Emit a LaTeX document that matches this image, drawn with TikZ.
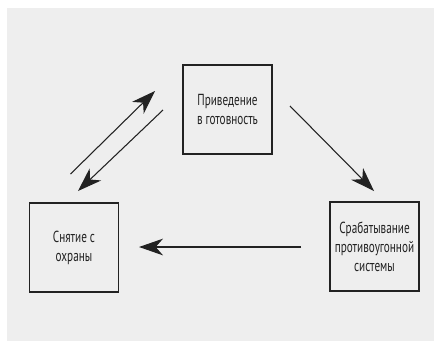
\documentclass[tikz,border=0pt]{standalone}
\usepackage{fontspec}
\setmainfont{PT Sans}[FakeStretch=0.7]
\usetikzlibrary{arrows.meta}
\definecolor{bggray}{HTML}{EEEEEE}
\definecolor{ink}{HTML}{222222}
\begin{document}
\begin{tikzpicture}[x=0.75pt,y=-0.75pt,
  stepbox/.style={draw=ink,line width=0.9pt,minimum width=66.75pt,minimum height=66.75pt,inner sep=0pt,align=center,font=\fontsize{12}{14.25}\selectfont,text=ink},
  conn/.style={draw=ink,line width=0.8pt,-{Stealth[length=18pt,width=12.5pt,inset=5.5pt]}}]
\useasboundingbox (0,0) rectangle (441,347);
\fill[bggray] (7,8) rectangle (434,341);
\node[stepbox] (top) at (227.5,109.5) {Приведение\\в готовность};
\node[stepbox] (left) at (74,247.5) {Снятие с\\охраны};
\node[stepbox] (right) at (374.5,246.5) {Срабатывание\\противоугонной\\системы};
\coordinate (a1s) at (70.5,174);
\coordinate (a1e) at (155,91);
\coordinate (a2s) at (163,110);
\coordinate (a2e) at (78,191);
\coordinate (a3s) at (290,106);
\coordinate (a3e) at (374,191);
\coordinate (a4s) at (301,247);
\coordinate (a4e) at (139,247);
\draw[conn] (a1s) -- (a1e);
\draw[conn] (a2s) -- (a2e);
\draw[conn] (a3s) -- (a3e);
\draw[conn] (a4s) -- (a4e);
\end{tikzpicture}
\end{document}
